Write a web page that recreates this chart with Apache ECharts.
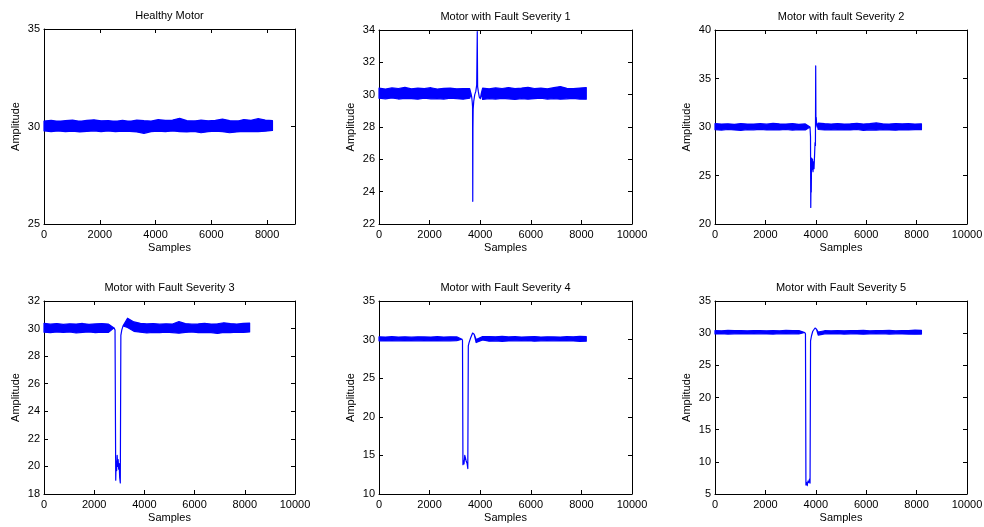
<!DOCTYPE html>
<html><head><meta charset="utf-8">
<script src="https://cdn.jsdelivr.net/npm/echarts@6.0.0/dist/echarts.min.js"></script>
<style>html,body{margin:0;padding:0;background:#fff}#c{width:984px;height:527px}</style>
</head><body><div id="c"></div>
<script>
// ---------- data ----------
const titles = ['Healthy Motor','Motor with Fault Severity 1','Motor with fault Severity 2',
                'Motor with Fault Severity 3','Motor with Fault Severity 4','Motor with Fault Severity 5'];
const xMax = [9000,10000,10000,10000,10000,10000];
const xInterval = 2000;
const yMin = [25,22,20,18,10,5];
const yMax = [35,34,40,32,35,35];
const yInterval = [5,2,5,2,5,5];

// noisy band envelope sampled along the record (samples)
const bandX = [0,256,512,768,1024,1280,1536,1792,2048,2304,2560,2816,3072,3328,3584,3840,4096,4352,4608,4864,5120,5376,5632,5888,6144,6400,6656,6912,7168,7424,7680,7936,8192];

const hi1 = [30.28,30.32,30.26,30.30,30.33,30.27,30.31,30.34,30.29,30.30,30.27,30.31,30.26,30.33,30.30,30.28,30.35,30.31,30.33,30.42,30.30,30.28,30.33,30.29,30.31,30.38,30.30,30.27,30.36,30.32,30.40,30.33,30.30];
const lo1 = [29.78,29.74,29.77,29.73,29.76,29.72,29.75,29.78,29.74,29.77,29.73,29.76,29.75,29.72,29.65,29.74,29.76,29.73,29.77,29.74,29.72,29.75,29.68,29.73,29.76,29.74,29.68,29.72,29.75,29.74,29.73,29.76,29.80];
const tx1 = [];
const ty1 = [];

const hi2 = [30.40,30.35,30.42,30.38,30.45,30.36,30.40,30.37,30.43,30.35,30.39,30.41,30.36,30.38,30.37,null,30.40,30.36,30.42,30.38,30.44,30.37,30.41,30.46,30.38,30.40,30.36,30.43,30.50,30.39,30.37,30.41,30.44];
const lo2 = [29.78,29.74,29.80,29.73,29.77,29.75,29.72,29.78,29.74,29.76,29.73,29.79,29.75,29.72,29.78,null,29.70,29.76,29.73,29.77,29.74,29.70,29.76,29.72,29.75,29.78,29.73,29.76,29.72,29.74,29.77,29.73,29.72];
const tx2 = [3640,3665,3685,3698,3706,3713,3722,3745,3785,3825,3862,3884,3898,3925,3965,4005,4045];
const ty2 = [30.05,29.85,29.55,29.25,23.4,27.9,29.1,29.6,30.0,30.2,30.6,33.9,30.5,30.2,29.85,29.75,30.1];

const hi3 = [30.35,30.30,30.33,30.28,30.36,30.31,30.30,30.34,30.29,30.37,30.32,30.30,30.35,30.28,30.32,null,30.40,30.34,30.31,30.36,30.30,30.33,30.38,30.31,30.35,30.42,30.33,30.30,30.36,30.32,30.34,30.31,30.33];
const lo3 = [29.72,29.68,29.74,29.70,29.66,29.73,29.71,29.75,29.69,29.72,29.70,29.74,29.68,29.72,29.70,null,29.74,29.70,29.73,29.69,29.72,29.70,29.74,29.66,29.71,29.68,29.73,29.70,29.67,29.72,29.70,29.73,29.72];
const tx3 = [3770,3790,3800,3810,3820,3832,3850,3870,3890,3910,3930,3950,3970,3985,3996,4006,4016,4032,4062];
const ty3 = [30.0,29.0,21.7,24.6,23.3,26.8,25.6,26.7,25.4,26.4,25.7,27.0,28.4,28.1,36.3,30.0,31.0,30.4,30.15];

const hi4 = [30.38,30.32,30.36,30.30,30.35,30.33,30.37,30.31,30.34,30.36,30.33,null,null,30.75,30.48,30.38,30.34,30.36,30.32,30.35,30.33,30.50,30.36,30.32,30.34,30.38,30.33,30.35,30.42,30.36,30.33,30.37,30.40];
const lo4 = [29.74,29.70,29.76,29.72,29.75,29.68,29.73,29.76,29.71,29.74,29.72,null,null,30.08,29.80,29.74,29.68,29.73,29.70,29.74,29.71,29.66,29.72,29.75,29.70,29.73,29.71,29.65,29.72,29.70,29.74,29.72,29.76];
const tx4 = [2790,2830,2858,2875,2895,2915,2935,2955,2975,2995,3015,3040,3062,3100,3150];
const ty4 = [30.05,29.9,19.0,20.4,19.7,20.8,20.0,20.5,19.8,20.2,19.2,18.8,29.5,29.9,30.2];

const hi5 = [30.36,30.33,30.38,30.34,30.36,30.32,30.37,30.35,30.33,30.38,30.34,30.36,30.35,null,null,30.02,30.40,30.40,30.36,30.42,30.35,30.38,30.33,30.36,30.40,30.34,30.37,30.35,30.33,30.38,30.36,30.42,30.40];
const lo5 = [29.84,29.86,29.82,29.85,29.83,29.87,29.84,29.82,29.86,29.83,29.85,29.84,29.86,null,null,29.62,29.96,29.80,29.84,29.78,29.83,29.85,29.82,29.86,29.80,29.84,29.82,29.85,29.83,29.86,29.82,29.78,29.80];
const tx5 = [3280,3300,3318,3340,3360,3390,3420,3450,3480,3510,3530,3560,3620,3700,3760];
const ty5 = [30.05,29.9,13.8,14.3,13.9,15.0,14.6,14.2,14.0,13.3,29.2,29.6,30.2,30.85,30.7];

const hi6 = [30.40,30.36,30.42,30.38,30.40,30.36,30.41,30.38,30.36,30.40,30.37,30.42,30.38,30.40,null,null,30.18,30.38,30.36,30.40,30.37,30.41,30.38,30.44,30.36,30.40,30.38,30.42,30.37,30.40,30.38,30.46,30.44];
const lo6 = [29.88,29.92,29.86,29.90,29.88,29.92,29.87,29.90,29.88,29.86,29.91,29.88,29.90,29.87,null,null,29.70,29.90,29.88,29.92,29.86,29.90,29.88,29.84,29.90,29.87,29.91,29.86,29.90,29.88,29.86,29.84,29.86];
const tx6 = [3560,3590,3608,3630,3660,3690,3720,3750,3772,3792,3830,3880,3970,4030];
const ty6 = [30.1,29.9,6.4,6.8,6.3,7.0,6.8,7.3,6.7,28.8,29.6,30.3,30.8,30.6];

const his = [hi1,hi2,hi3,hi4,hi5,hi6];
const los = [lo1,lo2,lo3,lo4,lo5,lo6];
const txs = [tx1,tx2,tx3,tx4,tx5,tx6];
const tys = [ty1,ty2,ty3,ty4,ty5,ty6];

// ---------- layout ----------
const gLeft = [44,379,715,44,379,715];
const gTop = [29,30,30,301,301,301];
const gWidth = [251,253,252,251,253,252];
const gHeight = [195,194,194,193,193,193];
const FONT = "'Liberation Sans', Arial, sans-serif";
const BLUE = '#0000ff';

function buildPolygon(k) {
  const hi = his[k], lo = los[k], tx = txs[k], ty = tys[k];
  const t0 = tx.length ? tx[0] : Infinity;
  const t1 = tx.length ? tx[tx.length - 1] : -Infinity;
  const up = [], dn = [];
  for (let i = 0; i < bandX.length; i++) {
    if (hi[i] == null || bandX[i] >= t0) continue;
    up.push([bandX[i], hi[i]]); dn.push([bandX[i], lo[i]]);
  }
  for (let i = 0; i < tx.length; i++) { up.push([tx[i], ty[i]]); dn.push([tx[i], ty[i]]); }
  for (let i = 0; i < bandX.length; i++) {
    if (hi[i] == null || bandX[i] <= t1) continue;
    up.push([bandX[i], hi[i]]); dn.push([bandX[i], lo[i]]);
  }
  return up.concat(dn.reverse());
}

const grid = [], xAxis = [], yAxis = [], series = [], title = [];
const axisCommon = {
  axisLine: {show: true, onZero: false, lineStyle: {color: '#000', width: 1}},
  axisTick: {show: true, inside: true, length: 4, lineStyle: {color: '#000', width: 1}},
  splitLine: {show: false}
};
const plain = v => String(v);
for (let k = 0; k < 6; k++) {
  grid.push({left: gLeft[k], top: gTop[k], width: gWidth[k], height: gHeight[k], containLabel: false, outerBoundsMode: 'none'});
  title.push({text: titles[k], left: gLeft[k] + gWidth[k] / 2, top: gTop[k] - 19, textAlign: 'center', padding: 0,
    textStyle: {fontSize: 11, fontWeight: 'normal', color: '#000', fontFamily: FONT}});
  xAxis.push(Object.assign({}, axisCommon, {
    gridIndex: k, type: 'value', position: 'bottom', min: 0, max: xMax[k], interval: xInterval,
    axisLabel: {color: '#000', fontSize: 11, fontFamily: FONT, margin: 5, formatter: plain,
      showMaxLabel: xMax[k] % xInterval === 0, hideOverlap: false},
    name: 'Samples', nameLocation: 'middle', nameGap: 18,
    nameTextStyle: {color: '#000', fontSize: 11, fontFamily: FONT}
  }));
  xAxis.push(Object.assign({}, axisCommon, {
    gridIndex: k, type: 'value', position: 'top', min: 0, max: xMax[k], interval: xInterval,
    axisLabel: {show: false}
  }));
  yAxis.push(Object.assign({}, axisCommon, {
    gridIndex: k, type: 'value', position: 'left', min: yMin[k], max: yMax[k], interval: yInterval[k],
    axisLabel: {color: '#000', fontSize: 11, fontFamily: FONT, margin: 4, formatter: plain, hideOverlap: false},
    name: 'Amplitude', nameLocation: 'middle', nameGap: 23,
    nameTextStyle: {color: '#000', fontSize: 11, fontFamily: FONT}
  }));
  yAxis.push(Object.assign({}, axisCommon, {
    gridIndex: k, type: 'value', position: 'right', min: yMin[k], max: yMax[k], interval: yInterval[k],
    axisLabel: {show: false}
  }));
  const poly = buildPolygon(k);
  series.push({
    type: 'custom', xAxisIndex: 2 * k, yAxisIndex: 2 * k, silent: true, animation: false,
    data: [[poly[0][0], poly[0][1]]], encode: {x: 0, y: 1},
    renderItem: function (params, api) {
      const pts = poly.map(p => api.coord(p));
      return {type: 'polygon', shape: {points: pts},
        style: {fill: BLUE, stroke: BLUE, lineWidth: 1.2, lineJoin: 'round'}};
    }
  });
}

const chart = echarts.init(document.getElementById('c'), null, {renderer: 'canvas'});
chart.setOption({backgroundColor: '#fff', animation: false, title, grid, xAxis, yAxis, series});
</script>
</body></html>
